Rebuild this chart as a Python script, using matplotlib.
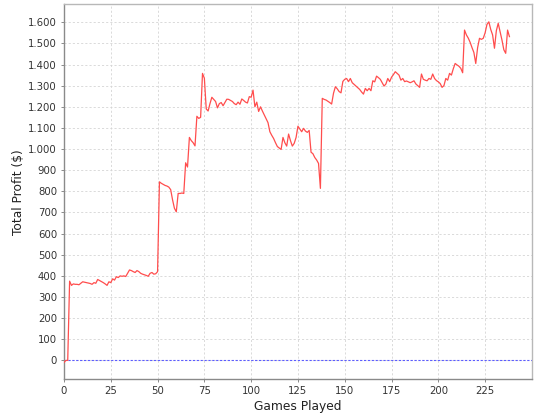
import matplotlib
matplotlib.use("Agg")
import matplotlib.pyplot as plt
from matplotlib.ticker import FuncFormatter, MultipleLocator

# cumulative profit per game
games = list(range(239))
profit = [
    -10, 0, 0, 375, 355, 362, 360, 360, 358, 365,
    372, 370, 368, 366, 364, 360, 368, 365, 383, 378,
    373, 368, 362, 355, 372, 368, 386, 380, 396, 392,
    400, 398, 400, 397, 412, 428, 425, 420, 416, 425,
    420, 412, 408, 405, 402, 398, 412, 416, 408, 410,
    420, 845, 838, 833, 828, 825, 820, 808, 760, 720,
    703, 790, 790, 792, 790, 935, 915, 1055, 1040, 1030,
    1015, 1155, 1145, 1150, 1358, 1335, 1190, 1180, 1215, 1245,
    1235, 1225, 1195, 1215, 1220, 1205, 1220, 1236, 1235, 1230,
    1225, 1215, 1210, 1222, 1212, 1237, 1230, 1222, 1218, 1248,
    1245, 1279, 1200, 1222, 1178, 1200, 1180, 1162, 1145, 1125,
    1082, 1065, 1050, 1030, 1012, 1005, 998, 1055, 1030, 1014,
    1071, 1040, 1014, 1027, 1055, 1108, 1095, 1082, 1098, 1085,
    1079, 1088, 985, 978, 960, 948, 932, 814, 1240, 1235,
    1232, 1226, 1220, 1213, 1264, 1295, 1285, 1272, 1266, 1320,
    1330, 1334, 1319, 1334, 1314, 1306, 1298, 1290, 1282, 1270,
    1260, 1287, 1276, 1287, 1276, 1323, 1318, 1345, 1338, 1330,
    1314, 1298, 1308, 1334, 1319, 1340, 1352, 1366, 1358, 1350,
    1326, 1334, 1319, 1322, 1318, 1314, 1318, 1323, 1308, 1300,
    1292, 1355, 1330, 1326, 1323, 1334, 1330, 1355, 1334, 1324,
    1318, 1310, 1292, 1300, 1334, 1326, 1358, 1350, 1380, 1405,
    1398, 1392, 1382, 1361, 1563, 1540, 1525, 1505, 1480, 1457,
    1405, 1480, 1524, 1519, 1524, 1550, 1590, 1602, 1566, 1540,
    1477, 1560, 1595, 1555, 1516, 1470, 1453, 1563, 1532,
]

x_ticks = [0, 25, 50, 75, 100, 125, 150, 175, 200, 225]


def thousands(v, _pos):
    return f"{int(round(v)):,}".replace(",", ".")


fig = plt.figure(figsize=(5.4, 4.2), dpi=100)
fig.patch.set_facecolor("white")
ax = fig.add_axes([0.1185, 0.0976, 0.8665, 0.8917])

ax.plot(games, profit, color="#ff4d4d", linewidth=0.9, zorder=3)
ax.axhline(0, color="#5c5cff", linewidth=0.8, linestyle=(0, (2, 1.5)), zorder=2)

ax.set_xlim(0, 250)
ax.set_ylim(-88, 1684)
ax.set_xticks(x_ticks)
ax.yaxis.set_major_locator(MultipleLocator(100))
ax.yaxis.set_major_formatter(FuncFormatter(thousands))

ax.grid(True, color="#d4d4d4", linewidth=0.6, linestyle=(0, (2.5, 2.5)))
ax.set_axisbelow(True)

for side in ("top", "right"):
    ax.spines[side].set_color("#b8b8b8")
    ax.spines[side].set_linewidth(1.0)
for side in ("left", "bottom"):
    ax.spines[side].set_color("#8a8a8a")
    ax.spines[side].set_linewidth(1.0)

ax.tick_params(axis="both", length=2, width=0.7, color="#8a8a8a",
               labelsize=7.3, labelcolor="#333333", pad=3)

ax.set_xlabel("Games Played", fontsize=8.8, color="#222222", labelpad=3)
ax.set_ylabel("Total Profit ($)", fontsize=8.8, color="#222222", labelpad=2)

fig.savefig("out.png", dpi=100)
